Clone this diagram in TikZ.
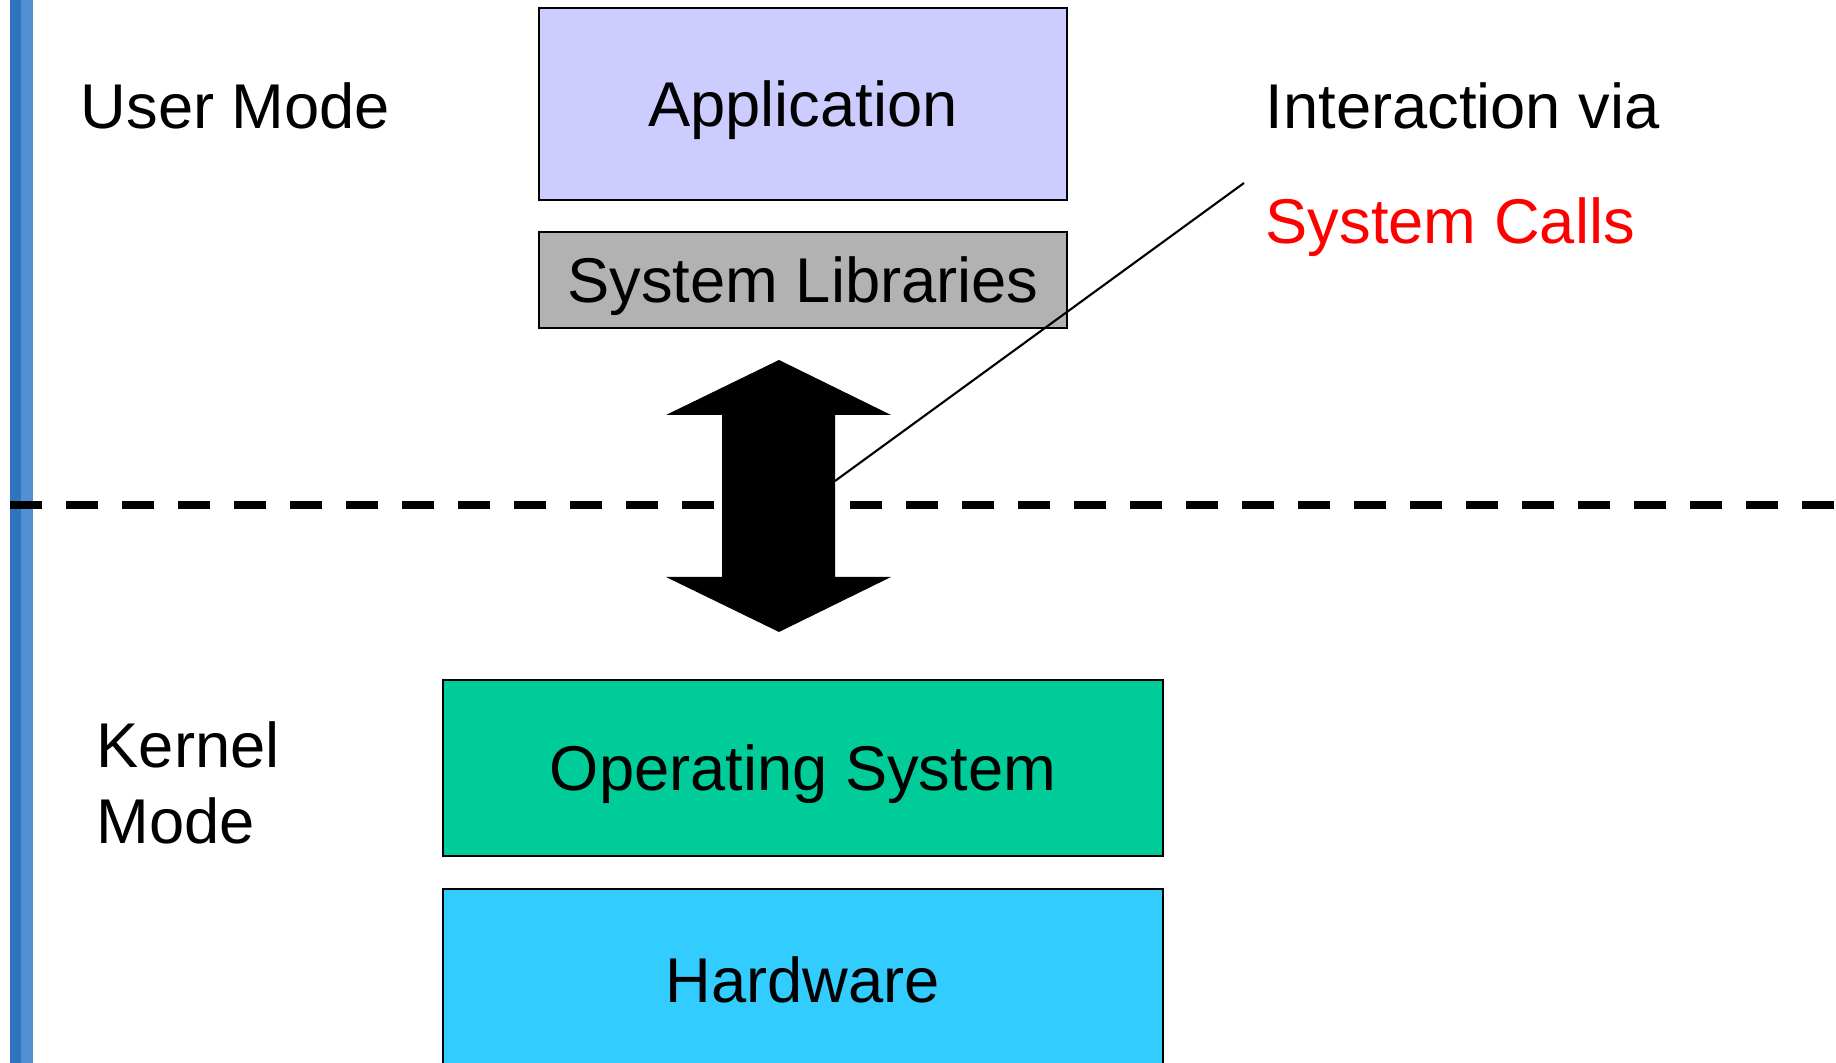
\documentclass[tikz,border=0pt]{standalone}
\usepackage{fontspec}
\setmainfont{Liberation Sans}
\definecolor{appblue}{HTML}{CCCCFF}
\definecolor{libgray}{HTML}{B2B2B2}
\definecolor{osgreen}{HTML}{00CC99}
\definecolor{hwcyan}{HTML}{33CCFF}
\definecolor{bardark}{RGB}{46,117,190}
\definecolor{barlight}{RGB}{84,143,212}
\begin{document}
\begin{tikzpicture}[font=\fontsize{18}{21.6}\selectfont,
		layerbox/.style={draw,line width=.6pt,inner sep=0pt,text height=12.9pt,text depth=0pt},
		modetext/.style={inner sep=0pt,anchor=base west}]
	\clip (0,0) rectangle (18.36,10.63);
	\fill[white] (0,0) rectangle (18.36,10.63);
	% left bar
	\fill[bardark] (0.10,0) rectangle (0.21,10.63);
	\fill[barlight] (0.21,0) rectangle (0.33,10.63);
	% mode boundary
	\draw[line width=2.1pt,dash pattern=on 0.32cm off 0.24cm](0.10,5.58)--(18.36,5.58);
	% layers
	\node[layerbox,fill=appblue,minimum width=5.28cm,minimum height=1.92cm](app)at(8.03,9.59){Application};
	\node[layerbox,fill=libgray,minimum width=5.28cm,minimum height=0.96cm](lib)at(8.03,7.83){System Libraries};
	\node[layerbox,fill=osgreen,minimum width=7.20cm,minimum height=1.76cm](os)at(8.03,2.95){Operating System};
	\node[layerbox,fill=hwcyan,minimum width=7.20cm,minimum height=1.82cm](hw)at(8.03,0.83){Hardware};
	% system call arrow
	\fill (7.79,7.03)--(8.91,6.48)--(8.35,6.48)--(8.35,4.86)--(8.91,4.86)--(7.79,4.31)
		--(6.66,4.86)--(7.22,4.86)--(7.22,6.48)--(6.66,6.48)--cycle;
	\coordinate (callpt) at (8.35,5.82);
	\coordinate (callend) at (12.44,8.80);
	\draw[line width=.6pt](callpt)--(callend);
	% texts
	\node[modetext](user)at(0.80,9.34){User Mode};
	\node[inner sep=0pt,anchor=south west,align=left](kernel)at(0.96,2.18){Kernel\\Mode};
	\node[modetext](via)at(12.65,9.34){Interaction via};
	\node[modetext,text=red](calls)at(12.65,8.19){System Calls};
\end{tikzpicture}
\end{document}
